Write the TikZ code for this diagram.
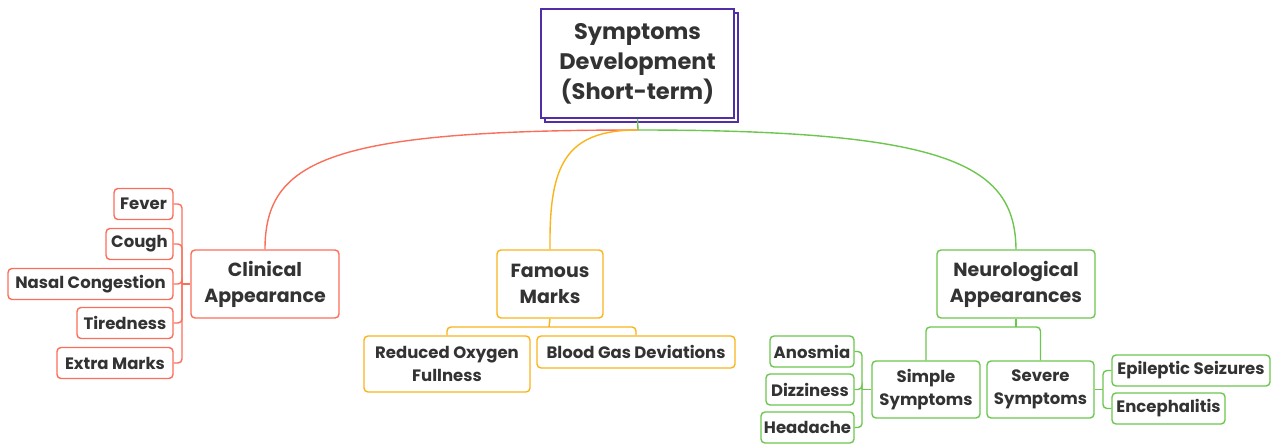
\documentclass[tikz,border=0pt]{standalone}
\usepackage{fontspec}
\setmainfont{Poppins}
\usetikzlibrary{shadows}
\definecolor{rootpurple}{HTML}{512DA8}
\definecolor{clinred}{HTML}{FA6E5A}
\definecolor{famorange}{HTML}{F9B41C}
\definecolor{neurogreen}{HTML}{6CC64F}
\definecolor{txtgray}{HTML}{333333}
\tikzset{
  box/.style={draw, fill=white, rounded corners=4, line width=1.4pt, text=txtgray,
    font=\bfseries\fontsize{16.5}{23}\selectfont, align=center, inner sep=1pt},
  leaf/.style={box, minimum height=31},
  branch/.style={box, minimum height=68, font=\bfseries\fontsize{19}{26}\selectfont},
  link/.style={line width=1.4pt},
}
\begin{document}
\begin{tikzpicture}[x=1pt,y=-1pt]
  \useasboundingbox (0,0) rectangle (1274,444);
  % root
  \node[draw=rootpurple, fill=white, line width=1.8pt, text=txtgray, minimum width=193, minimum height=109,
    align=center, font=\bfseries\fontsize{22.5}{30}\selectfont,
    copy shadow={shadow xshift=4pt, shadow yshift=-4pt}] (root) at (637.5,63.5)
    {Symptoms\\Development\\(Short-term)};
  \coordinate (hub) at (638,130);
  % first level
  \node[branch, draw=clinred, minimum width=148] (clin) at (265,284) {Clinical\\Appearance};
  \node[branch, draw=famorange, minimum width=106] (fam) at (550,284) {Famous\\Marks};
  \node[branch, draw=neurogreen, minimum width=158] (neuro) at (1016,284) {Neurological\\Appearances};
  \draw[link, neurogreen] (root.south) -- (hub);
  \draw[link, clinred] (hub) .. controls (330,130) and (265,160) .. (clin.north);
  \draw[link, famorange] (hub) .. controls (565,130) and (549,165) .. (fam.north);
  \draw[link, neurogreen] (hub) .. controls (950,130) and (1015,165) .. (neuro.north);
  % clinical appearance
  \node[leaf, draw=clinred, minimum width=59] (fever) at (143.5,204) {Fever};
  \node[leaf, draw=clinred, minimum width=67] (cough) at (139.5,244) {Cough};
  \node[leaf, draw=clinred, minimum width=165] (nasal) at (90.5,284) {Nasal Congestion};
  \node[leaf, draw=clinred, minimum width=96] (tired) at (125,323) {Tiredness};
  \node[leaf, draw=clinred, minimum width=116] (extra) at (115,363) {Extra Marks};
  \coordinate (clinbus) at (182,284);
  \draw[link, clinred] (clin.west) -- (clinbus);
  \foreach \c in {fever,cough,nasal,tired,extra}
    \draw[link, clinred, rounded corners=4] (clinbus) |- (\c.east);
  % famous marks
  \node[leaf, draw=famorange, minimum width=166, minimum height=56] (oxy) at (447,364) {Reduced Oxygen\\Fullness};
  \node[leaf, draw=famorange, minimum width=198, minimum height=32] (blood) at (636,352) {Blood Gas Deviations};
  \coordinate (famhub) at (549,327);
  \draw[link, famorange] (fam.south) -- (famhub);
  \draw[link, famorange, rounded corners=4] (famhub) -| (oxy.north);
  \draw[link, famorange, rounded corners=4] (famhub) -| (blood.north);
  % neurological appearances
  \node[leaf, draw=neurogreen, minimum width=108, minimum height=57] (simple) at (926,389.5) {Simple\\Symptoms};
  \node[leaf, draw=neurogreen, minimum width=107, minimum height=57] (severe) at (1040.5,389.5) {Severe\\Symptoms};
  \coordinate (neurohub) at (1016,327);
  \draw[link, neurogreen] (neuro.south) -- (neurohub);
  \draw[link, neurogreen, rounded corners=4] (neurohub) -| (simple.north);
  \draw[link, neurogreen, rounded corners=4] (neurohub) -| (severe.north);
  \node[leaf, draw=neurogreen, minimum width=84] (anosmia) at (812,351.5) {Anosmia};
  \node[leaf, draw=neurogreen, minimum width=88] (dizzy) at (810,389.5) {Dizziness};
  \node[leaf, draw=neurogreen, minimum width=93] (headache) at (807.5,427.5) {Headache};
  \coordinate (simplebus) at (862,389.5);
  \draw[link, neurogreen] (simple.west) -- (simplebus);
  \foreach \c in {anosmia,dizzy,headache}
    \draw[link, neurogreen, rounded corners=4] (simplebus) |- (\c.east);
  \node[leaf, draw=neurogreen, minimum width=158] (seizure) at (1191,370.5) {Epileptic Seizures};
  \node[leaf, draw=neurogreen, minimum width=113] (enceph) at (1168.5,408.5) {Encephalitis};
  \coordinate (severebus) at (1103,389.5);
  \draw[link, neurogreen] (severe.east) -- (severebus);
  \foreach \c in {seizure,enceph}
    \draw[link, neurogreen, rounded corners=4] (severebus) |- (\c.west);
\end{tikzpicture}
\end{document}
